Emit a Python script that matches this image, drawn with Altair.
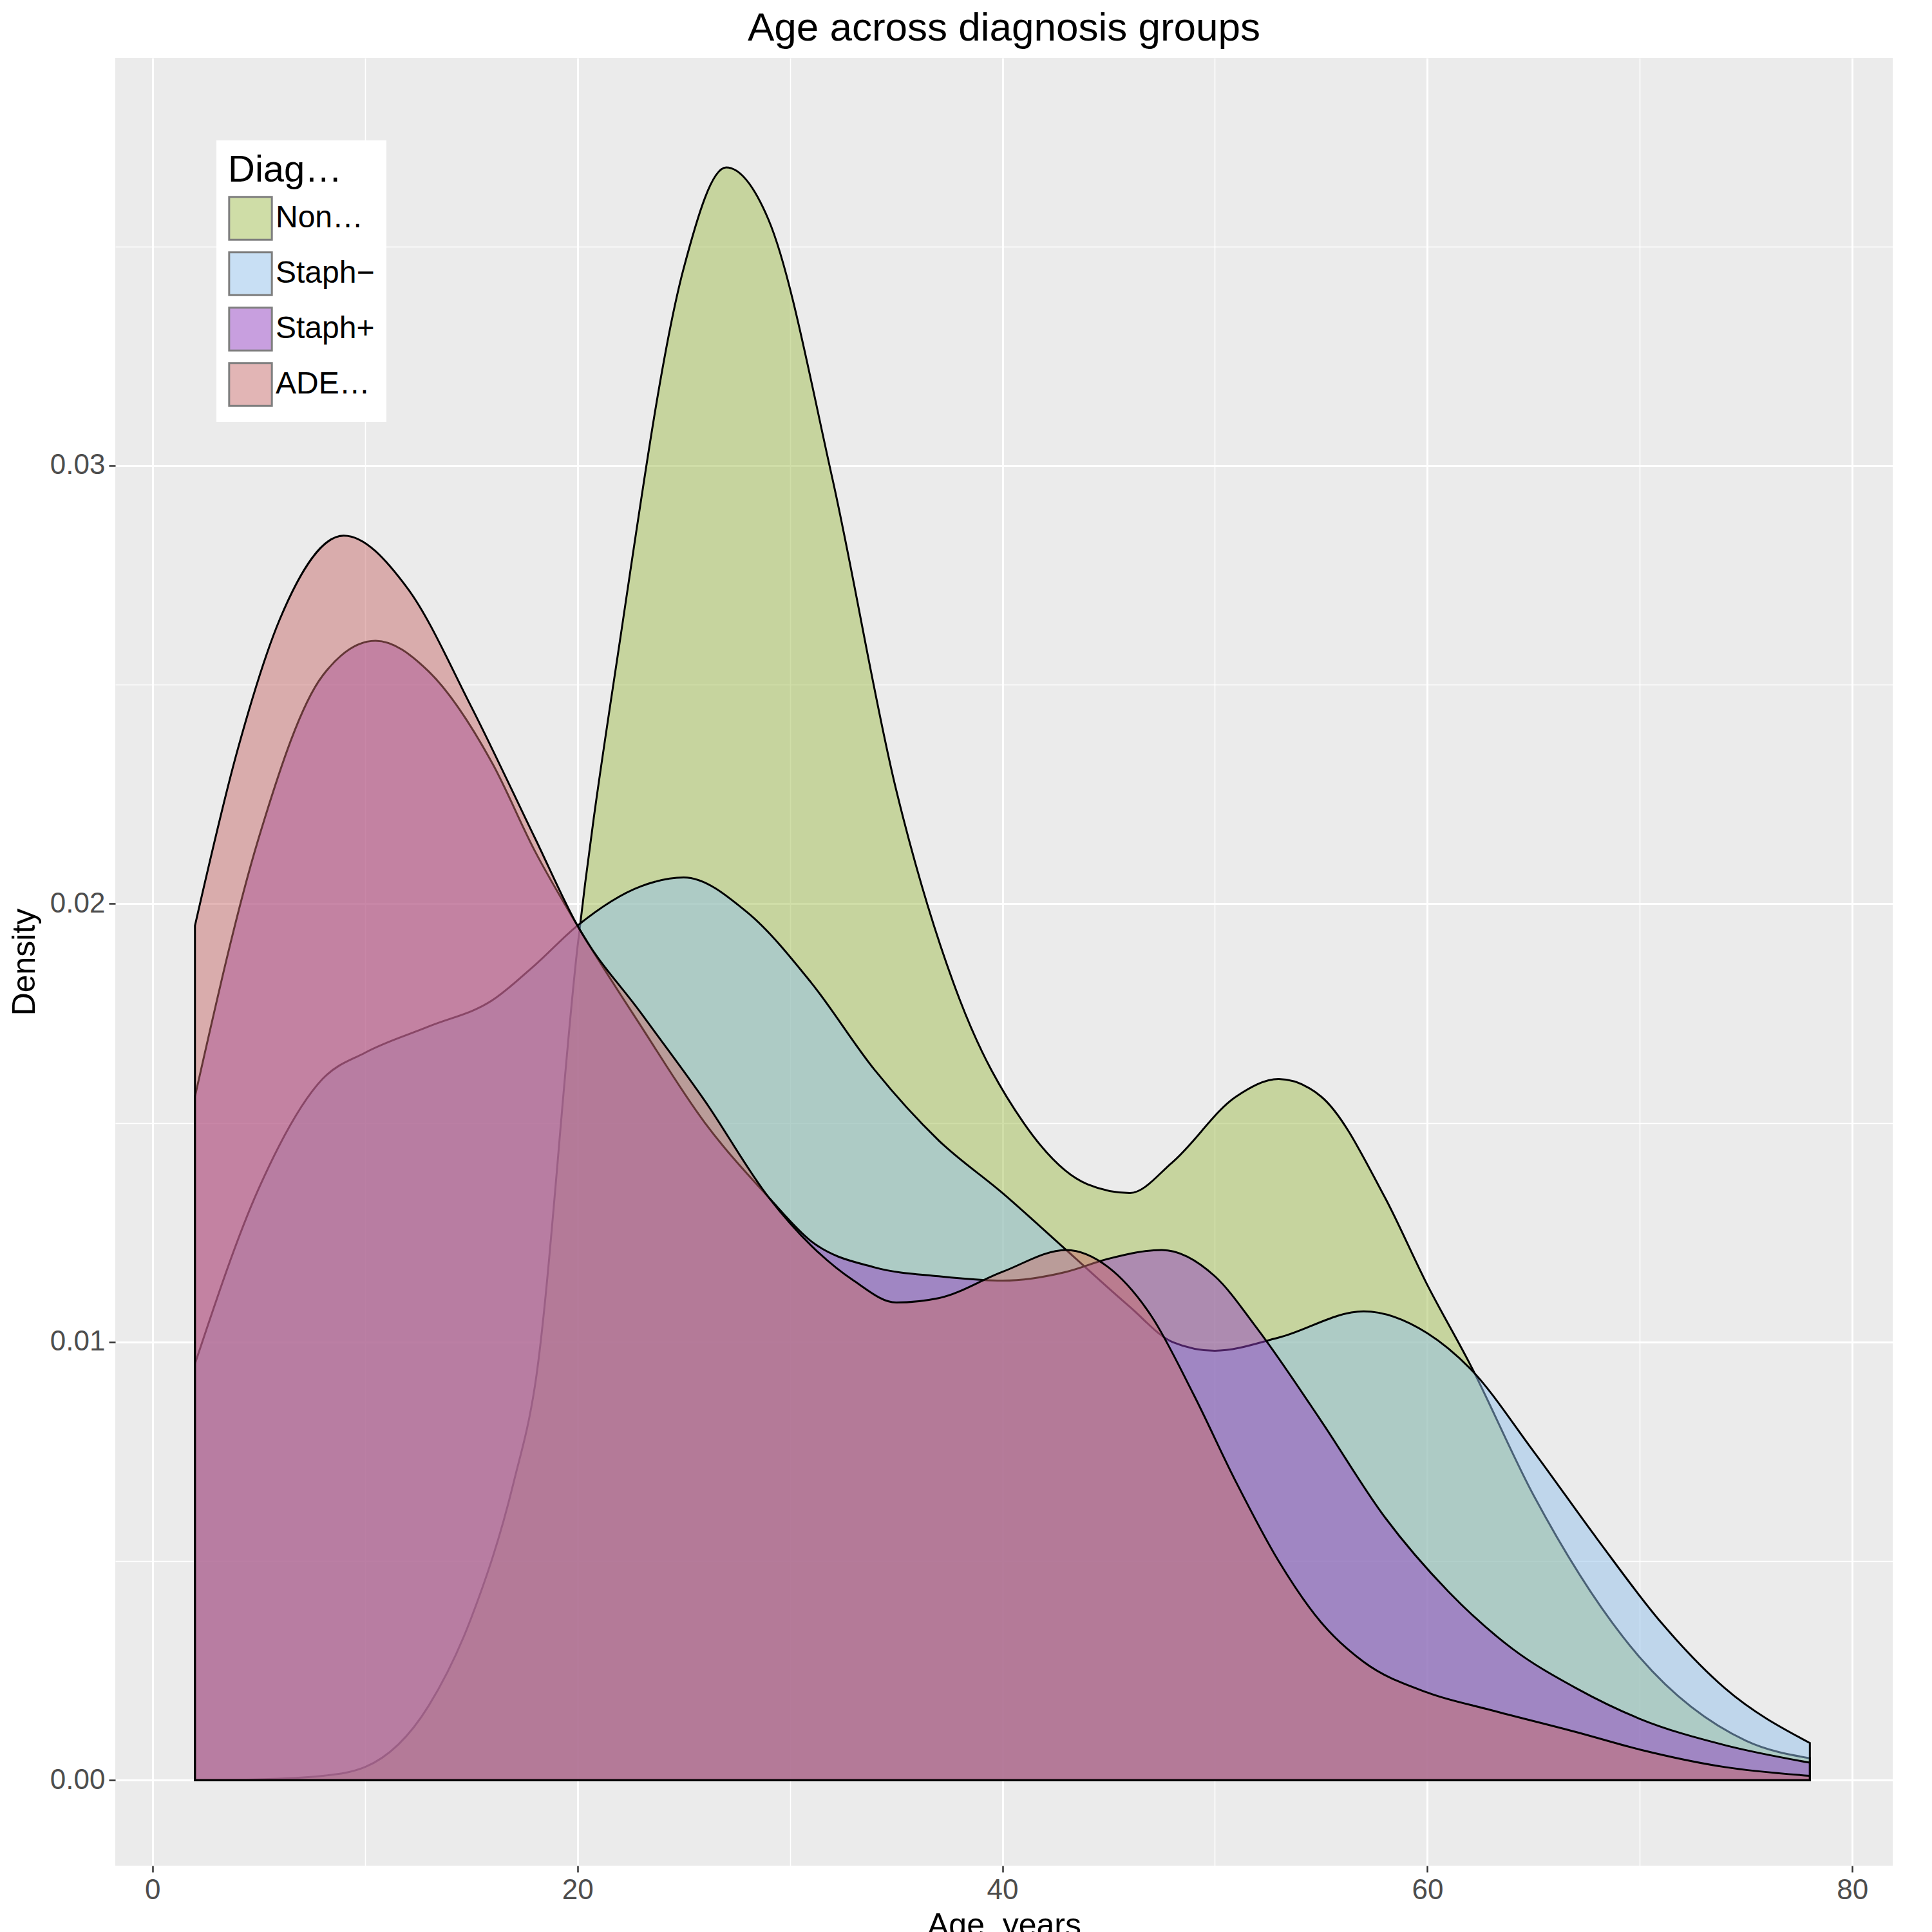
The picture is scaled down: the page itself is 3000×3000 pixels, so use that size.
import pandas as pd
import altair as alt

groups = ["Non\u2212Atopic", "Staph\u2212", "Staph+", "ADEH+"]
colors = ["#A1BD51", "#93C1EB", "#9341C1", "#C76D6D"]

non_atopic_x = [2, 5, 8, 10, 13, 15, 17, 18, 20, 22, 25, 27, 29, 32, 35, 38, 41, 44, 46, 48, 51, 53, 55, 58, 60, 62, 65, 70, 75, 78]
non_atopic_y = [0.0, 0.00002, 0.0001, 0.0003, 0.0017, 0.0037, 0.0068, 0.009, 0.019, 0.026, 0.0345, 0.0368, 0.0356, 0.0297, 0.0226, 0.0178, 0.015, 0.0136, 0.0134, 0.0141, 0.0156, 0.016, 0.0156, 0.0133, 0.0113, 0.0095, 0.0065, 0.0028, 0.0009, 0.0005]

staph_neg_x = [2, 5, 8, 10, 13, 16, 18, 20, 23, 25, 28, 31, 34, 37, 40, 43, 46, 48, 50, 53, 57, 60, 62, 65, 68, 71, 74, 78]
staph_neg_y = [0.0095, 0.0135, 0.016, 0.0166, 0.0172, 0.0178, 0.0186, 0.0195, 0.0204, 0.0206, 0.0198, 0.0182, 0.0162, 0.0146, 0.0134, 0.0121, 0.0108, 0.0100, 0.0098, 0.0101, 0.0107, 0.0102, 0.0094, 0.0075, 0.0055, 0.0036, 0.0021, 0.00085]

staph_pos_x = [2, 5, 8, 10.5, 13, 16, 18, 20, 23, 26, 29, 31, 34, 37, 40, 43, 45, 47.5, 50, 52, 55, 58, 61, 64, 67, 70, 74, 78]
staph_pos_y = [0.0156, 0.0215, 0.0252, 0.026, 0.0253, 0.0232, 0.0212, 0.0195, 0.0172, 0.015, 0.0133, 0.0123, 0.0117, 0.0115, 0.0114, 0.0116, 0.0119, 0.0121, 0.0115, 0.0103, 0.0082, 0.006, 0.0043, 0.003, 0.0021, 0.0014, 0.0008, 0.0004]

adeh_x = [2, 4, 6, 9, 12, 15, 18, 20, 23, 26, 29, 31, 33, 35, 37, 40, 43, 45, 47, 49, 51, 53, 55, 57, 60, 63, 67, 70, 74, 78]
adeh_y = [0.0195, 0.0235, 0.0265, 0.0284, 0.0272, 0.0245, 0.0215, 0.0195, 0.0175, 0.0155, 0.0133, 0.0122, 0.0114, 0.0109, 0.011, 0.0116, 0.0121, 0.0117, 0.0106, 0.0088, 0.0068, 0.005, 0.0036, 0.0027, 0.002, 0.0016, 0.0011, 0.0007, 0.0003, 0.0001]

series = [(non_atopic_x, non_atopic_y), (staph_neg_x, staph_neg_y), (staph_pos_x, staph_pos_y), (adeh_x, adeh_y)]
rows = []
for i, (g, (xs, ys)) in enumerate(zip(groups, series)):
    for x, y in zip(xs, ys):
        rows.append({"group": g, "order": i, "age": x, "density": y})
df = pd.DataFrame(rows)

FONT = "Liberation Sans"
X_MAJOR = "datum.value % 20 === 0"
Y_MAJOR = "round(datum.value * 1000) % 10 === 0"

x_axis = alt.Axis(
    values=list(range(0, 81, 10)),
    labelExpr=f"{X_MAJOR} ? datum.label : ''",
    gridColor="white",
    gridWidth={"condition": {"test": X_MAJOR, "value": 3}, "value": 1.5},
    tickColor={"condition": {"test": X_MAJOR, "value": "#333333"}, "value": "transparent"},
    tickSize=10, tickWidth=2.5, domain=False,
    labelFontSize=44, labelColor="#4d4d4d", labelFont=FONT, labelPadding=6,
    titleFontSize=50, titleFont=FONT, titleFontWeight="normal", titleColor="black", titlePadding=8,
)
y_axis = alt.Axis(
    values=[0, 0.005, 0.01, 0.015, 0.02, 0.025, 0.03, 0.035],
    labelExpr=f"{Y_MAJOR} ? format(datum.value, '.2f') : ''",
    gridColor="white",
    gridWidth={"condition": {"test": Y_MAJOR, "value": 3}, "value": 1.5},
    tickColor={"condition": {"test": Y_MAJOR, "value": "#333333"}, "value": "transparent"},
    tickSize=10, tickWidth=2.5, domain=False,
    labelFontSize=44, labelColor="#4d4d4d", labelFont=FONT, labelPadding=6,
    titleFontSize=50, titleFont=FONT, titleFontWeight="normal", titleColor="black", titlePadding=14,
)

chart = alt.Chart(df).mark_area(
    stroke="black", strokeWidth=3, fillOpacity=0.5, interpolate="monotone"
).encode(
    x=alt.X("age:Q", title="Age, years", scale=alt.Scale(domain=[-1.75, 81.9], nice=False, zero=False), axis=x_axis),
    y=alt.Y("density:Q", title="Density", stack=None, scale=alt.Scale(domain=[-0.00195, 0.0393], nice=False, zero=False), axis=y_axis),
    fill=alt.Fill("group:N", scale=alt.Scale(domain=groups, range=colors), legend=alt.Legend(
        title="Diagnosis group", orient="none", legendX=157, legendY=128,
        fillColor="white", padding=18, symbolType="square", symbolSize=4400,
        symbolStrokeColor="black", symbolStrokeWidth=3, symbolOpacity=0.5,
        titleFontSize=58, titleFont=FONT, titleFontWeight="normal", titleColor="black",
        labelFontSize=48, labelFont=FONT, labelColor="black", rowPadding=6, titlePadding=10,
    )),
    order=alt.Order("order:Q"),
    detail="group:N",
).properties(
    width=2760, height=2807,
    title=alt.TitleParams("Age across diagnosis groups", fontSize=62, font=FONT, fontWeight="normal", color="black", anchor="middle", offset=14),
).configure_view(fill="#EBEBEB", stroke=None)

chart.save("out.html", embed_options={"renderer": "svg", "actions": False})
